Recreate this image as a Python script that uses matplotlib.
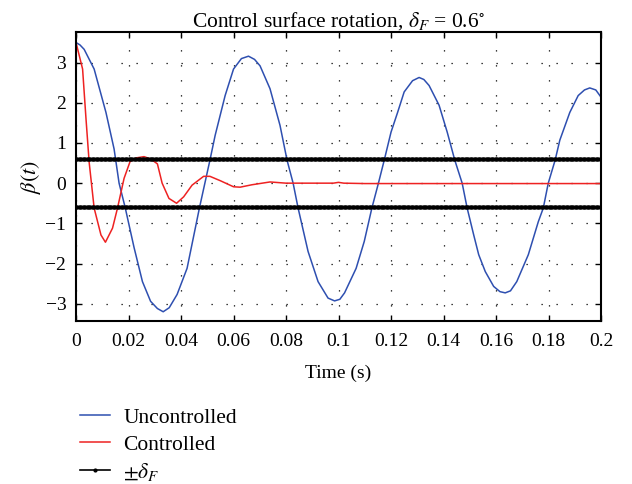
import numpy as np
import matplotlib.pyplot as plt

plt.rcParams['font.family'] = ['Liberation Serif', 'DejaVu Serif']
plt.rcParams['mathtext.fontset'] = 'stix'

# uncontrolled response
t_unc = [0, 0.0015, 0.0031, 0.0069, 0.0114, 0.0145, 0.0164, 0.0187, 0.0221, 0.0253, 0.0284,
         0.0310, 0.0332, 0.0355, 0.0385, 0.0423, 0.047, 0.051, 0.053, 0.0568, 0.060,
         0.063, 0.0657, 0.068, 0.0701, 0.0739, 0.0777, 0.0804, 0.0827, 0.0846, 0.0884,
         0.0922, 0.096, 0.0985, 0.1005, 0.1023, 0.1067, 0.1098, 0.1127, 0.1152, 0.1174,
         0.120, 0.1225, 0.125, 0.1282, 0.1307, 0.1325, 0.1345, 0.1383, 0.1414, 0.1443,
         0.1471, 0.149, 0.1515, 0.1534, 0.1559, 0.1591, 0.1615, 0.1635, 0.1655, 0.1679,
         0.1723, 0.1761, 0.178, 0.1799, 0.1825, 0.1843, 0.1881, 0.1913, 0.1937, 0.1957,
         0.1980, 0.200]
b_unc = [3.5, 3.44, 3.33, 2.84, 1.76, 0.85, 0.0, -0.6, -1.6, -2.45, -2.94,
         -3.12, -3.2, -3.1, -2.77, -2.12, -0.62, 0.57, 1.19, 2.18, 2.84,
         3.1, 3.16, 3.08, 2.92, 2.35, 1.44, 0.57, 0.0, -0.62, -1.7,
         -2.45, -2.86, -2.93, -2.89, -2.73, -2.12, -1.45, -0.62, 0.0, 0.57,
         1.27, 1.76, 2.27, 2.55, 2.63, 2.58, 2.43, 1.94, 1.27, 0.57,
         0.0, -0.62, -1.29, -1.78, -2.2, -2.57, -2.7, -2.73, -2.68, -2.45,
         -1.78, -0.96, -0.62, 0.0, 0.57, 1.07, 1.76, 2.18, 2.32, 2.37,
         2.32, 2.14]

# controlled response
t_con = [0, 0.0025, 0.0038, 0.005, 0.0069, 0.0095, 0.0112, 0.0139, 0.0158, 0.0183,
         0.0206, 0.023, 0.0259, 0.0285, 0.031, 0.0328, 0.0354, 0.0383, 0.041, 0.0442,
         0.0486, 0.051, 0.055, 0.060, 0.0625, 0.067, 0.0739, 0.080, 0.098, 0.100,
         0.102, 0.110, 0.200]
b_con = [3.5, 2.84, 1.6, 0.52, -0.62, -1.29, -1.47, -1.12, -0.62, 0.12,
         0.54, 0.63, 0.66, 0.6, 0.48, 0.0, -0.38, -0.5, -0.34, -0.05,
         0.17, 0.17, 0.06, -0.09, -0.1, -0.04, 0.03, 0.0, 0.0, 0.02,
         0.0, -0.01, -0.01]

delta_f = 0.6
t_delta = np.linspace(0, 0.2, 401)

fig = plt.figure(figsize=(6.32, 4.84), dpi=100)
ax = fig.add_axes([0.1203, 0.3368, 0.8307, 0.5961])

ax.plot(t_unc, b_unc, color='#2e4fb0', lw=1.1, label='Uncontrolled')
ax.plot(t_con, b_con, color='#ee2222', lw=1.1, label='Controlled')
ax.plot(t_delta, np.full_like(t_delta, delta_f), '.-', color='black', lw=1.2, ms=4,
        label=r'$\pm\delta_F$')
ax.plot(t_delta, np.full_like(t_delta, -delta_f), '.-', color='black', lw=1.2, ms=4)

ax.set_xlim(0, 0.2)
ax.set_ylim(-3.43, 3.75)
ax.set_xticks(np.arange(0, 0.21, 0.02))
ax.set_xticklabels(['0', '0.02', '0.04', '0.06', '0.08', '0.1', '0.12', '0.14',
                    '0.16', '0.18', '0.2'])
ax.set_yticks([-3, -2, -1, 0, 1, 2, 3])
ax.set_yticklabels(['\u22123', '\u22122', '\u22121', '0', '1', '2', '3'])
ax.tick_params(direction='in', top=True, right=True, labelsize=14, length=4, width=1,
               pad=7)
ax.tick_params(axis='x', pad=9)
ax.grid(True, color='black', linestyle=(0, (1, 11)), lw=0.9)
for s in ax.spines.values():
    s.set_linewidth(1.5)

ax.set_title(r'Control surface rotation, $\delta_F$ = 0.6$^{\circ}$', fontsize=15.5, pad=4)
ax.set_xlabel('Time (s)', fontsize=14, labelpad=10)
ax.set_ylabel(r'$\beta(t)$', fontsize=16, labelpad=2)

handles, labels = ax.get_legend_handles_labels()
fig.legend(handles, labels, loc='upper left', bbox_to_anchor=(0.113, 0.175),
           frameon=False, fontsize=15.5, handlelength=1.4, labelspacing=0.3,
           handletextpad=0.6, borderaxespad=0)

fig.savefig('out.png', dpi=100)
